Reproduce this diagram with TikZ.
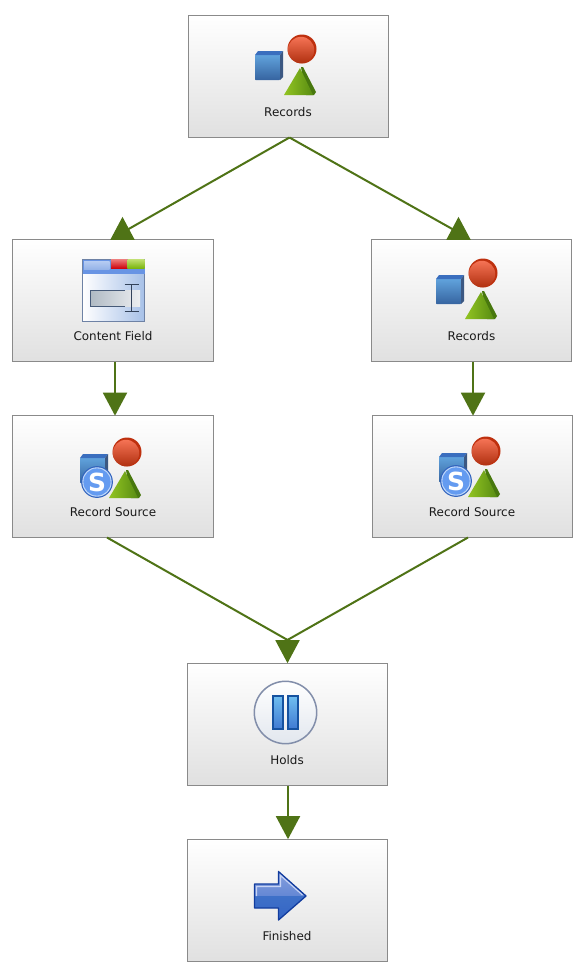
\documentclass[tikz,border=0pt]{standalone}
\usepackage{fontspec}
\setmainfont{DejaVu Sans}
\usetikzlibrary{shapes.geometric}
\definecolor{connc}{HTML}{4F7316}
\definecolor{boxline}{HTML}{8A8A8A}
\definecolor{cubeA}{RGB}{96,162,220}
\definecolor{cubeB}{RGB}{54,100,160}
\definecolor{cubeT}{RGB}{58,110,190}
\definecolor{cubeS}{RGB}{60,88,130}
\definecolor{ballD}{RGB}{190,48,14}
\definecolor{ballA}{RGB}{245,115,85}
\definecolor{ballB}{RGB}{176,48,16}
\definecolor{coneD}{RGB}{72,120,14}
\definecolor{coneA}{RGB}{146,196,34}
\definecolor{coneB}{RGB}{88,140,18}
\definecolor{sBall}{RGB}{100,155,240}
\definecolor{sEdge}{RGB}{50,100,190}
\definecolor{sRing}{RGB}{190,215,250}
\definecolor{winR}{RGB}{168,194,232}
\definecolor{winE}{RGB}{110,130,165}
\definecolor{winT}{RGB}{104,148,228}
\definecolor{winLa}{RGB}{182,204,242}
\definecolor{winLb}{RGB}{150,180,232}
\definecolor{redA}{RGB}{236,120,120}
\definecolor{redB}{RGB}{205,0,10}
\definecolor{grnA}{RGB}{190,222,110}
\definecolor{grnB}{RGB}{120,180,10}
\definecolor{fldA}{RGB}{176,186,196}
\definecolor{fldB}{RGB}{236,238,240}
\definecolor{fldE}{RGB}{70,90,120}
\definecolor{beam}{RGB}{50,66,90}
\definecolor{pauBg}{RGB}{226,231,238}
\definecolor{pauE}{RGB}{130,142,170}
\definecolor{barA}{RGB}{112,190,240}
\definecolor{barB}{RGB}{64,122,210}
\definecolor{barE}{RGB}{22,82,160}
\definecolor{nxtA}{RGB}{135,160,222}
\definecolor{nxtB}{RGB}{100,135,212}
\definecolor{nxtC}{RGB}{62,112,200}
\definecolor{nxtD}{RGB}{52,100,196}
\definecolor{nxtE}{RGB}{18,60,158}
\definecolor{nxtL}{RGB}{200,212,244}
\tikzset{
  x=1bp,y=-1bp,
  box/.style={draw=boxline,line width=1bp,top color=white,bottom color=black!12,minimum width=200bp,minimum height=122bp,inner sep=0pt,
    label={[lbl]center:#1}},
  lbl/.style={yshift=-36bp,font=\fontsize{12}{14}\selectfont,text=black!90},
  conn/.style={draw=connc,line width=2bp},
  headbase/.style={isosceles triangle,isosceles triangle apex angle=58,isosceles triangle stretches,fill=connc,inner sep=0pt,minimum width=24.5bp,minimum height=23bp,draw=none},
  headup/.style={headbase,shape border rotate=90},
  headdown/.style={headbase,shape border rotate=-90},
  recicon/.pic={
    \shade[top color=cubeA,bottom color=cubeB,rounded corners=0.6bp] (-33,-21) rectangle (-8,4);
    \fill[cubeT] (-33,-21) -- (-30,-25) -- (-5,-25) -- (-8,-21) -- cycle;
    \fill[cubeS] (-8,-21) -- (-5,-25) -- (-5,1) -- (-8,4) -- cycle;
    \fill[ballD] (14,-27) circle (14.5);
    \shade[top color=ballA,bottom color=ballB] (13,-26) circle (13.2);
    \fill[coneD] (13,-9) -- (15,-9) -- (28,16) -- (26,19) -- (18,19) -- cycle;
    \shade[left color=coneA,right color=coneB] (12,-8) -- (25,19) -- (-4,19) -- cycle;
  },
  srcicon/.pic={
    \pic {recicon};
    \fill[sEdge] (-16,3) circle (15.9);
    \fill[sRing] (-16,3) circle (14.7);
    \fill[sBall] (-16,3) circle (13.6);
    \node[text=white,font=\fontsize{25}{25}\bfseries\selectfont,inner sep=0pt] at (-16,3) {S};
  },
  fieldicon/.pic={
    \shade[left color=white,right color=winR] (0,14) rectangle (61,62);
    \draw[winE,line width=1.4bp] (0,0) rectangle (62,62);
    \fill[winT] (0,0) rectangle (62,14);
    \shade[top color=winLa,bottom color=winLb] (1.5,1.5) rectangle (27,9.5);
    \shade[top color=redA,bottom color=redB] (28.5,0) rectangle (45,9);
    \shade[top color=grnA,bottom color=grnB] (45,0) rectangle (62,9);
    \shade[left color=fldA,right color=fldB] (8,31) rectangle (57.5,47);
    \draw[fldE,line width=1.5bp] (42,31) -- (8,31) -- (8,47) -- (42,47);
    \draw[beam,line width=1.3bp] (49,25) -- (49,52) (42,25) -- (56,25) (42,52) -- (56,52);
  },
  pauseicon/.pic={
    \shade[top color=white,bottom color=pauBg] (0,0) circle (31);
    \draw[pauE,line width=1.5bp] (0,0) circle (31.2);
    \foreach \bx in {-12.5,2.5}{
      \shade[top color=barA,bottom color=barB] (\bx,-16.5) rectangle ++(10,33);
      \draw[barE,line width=1.4bp] (\bx,-16.5) rectangle ++(10,33);
    }
  },
  nexticon/.pic={
    \begin{scope}
      \clip (0,-12) -- (24,-12) -- (24,-24.5) -- (51.5,0) -- (24,24) -- (24,12) -- (0,12) -- cycle;
      \shade[top color=nxtA,bottom color=nxtB] (0,-25) rectangle (52,0);
      \shade[top color=nxtC,bottom color=nxtD] (0,0) rectangle (52,25);
    \end{scope}
    \draw[nxtE,line width=1.3bp,line join=round] (0,-12) -- (24,-12) -- (24,-24.5) -- (51.5,0) -- (24,24) -- (24,12) -- (0,12) -- cycle;
    \draw[nxtL,line width=1.1bp] (2,0) -- (2,-9.5) -- (26,-9.5) -- (26,-20.5) -- (48,-1);
  }
}
\begin{document}
\begin{tikzpicture}
\useasboundingbox[fill=white] (0,0) rectangle (587,971);
% boxes
\node[box=Records] (top) at (288,76) {};
\node[box=Content Field] (cf) at (113,300) {};
\node[box=Records] (rr) at (471.5,300) {};
\node[box=Record Source] (rsl) at (113,476) {};
\node[box=Record Source] (rsr) at (472,476) {};
\node[box=Holds] (hold) at (287,724) {};
\node[box=Finished] (fin) at (287,900) {};
% heads
\node[headup] (h1) at (122.5,232.5) {};
\node[headup] (h2) at (458.5,232.5) {};
\node[headdown] (h3) at (115,400) {};
\node[headdown] (h4) at (473,400) {};
\node[headdown] (h5) at (287.5,647.5) {};
\node[headdown] (h6) at (288,823.5) {};
% connectors
\draw[conn] ([xshift=1.5bp]top.south) -- (h1.center);
\draw[conn] ([xshift=1.5bp]top.south) -- (h2.center);
\draw[conn] (h3 |- cf.south) -- (h3.center);
\draw[conn] (h4 |- rr.south) -- (h4.center);
\draw[conn] ([xshift=-6bp]rsl.south) -- (h5.lower side);
\draw[conn] ([xshift=-4bp]rsr.south) -- (h5.lower side);
\draw[conn] (h6 |- hold.south) -- (h6.center);
% icons
\pic at (288,76) {recicon};
\pic at (469,300) {recicon};
\pic at (113,479) {srcicon};
\pic at (472,478) {srcicon};
\pic at (82.5,259.5) {fieldicon};
\pic at (285.5,712.5) {pauseicon};
\pic at (254.5,896) {nexticon};
\end{tikzpicture}
\end{document}
